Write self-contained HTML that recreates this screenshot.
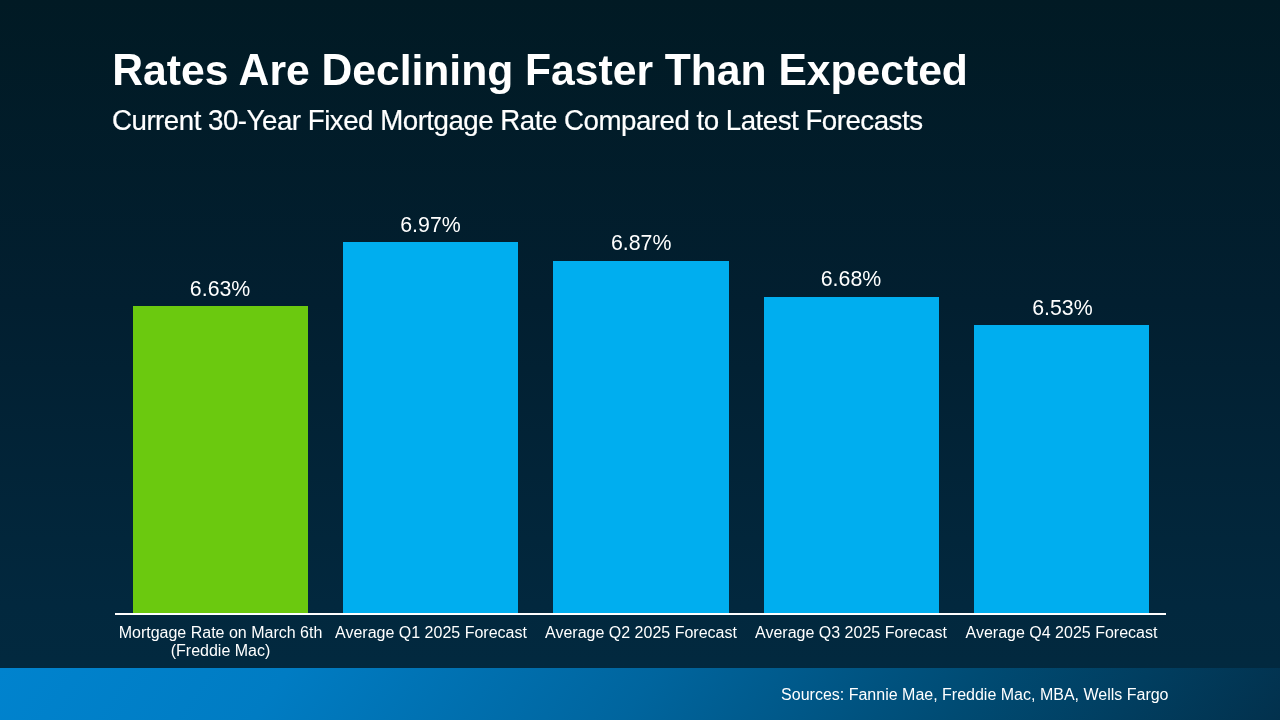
<!DOCTYPE html>
<html lang="en">
<head>
<meta charset="utf-8">
<title>Rates Are Declining Faster Than Expected</title>
<style>
  html, body { margin: 0; padding: 0; }
  body {
    width: 1280px; height: 720px; overflow: hidden; position: relative;
    background: linear-gradient(180deg, #011a24 0%, #021f30 42%, #02283e 84%, #022a40 100%);
    font-family: "Liberation Sans", sans-serif;
    color: #fff;
  }
  .abs { position: absolute; white-space: nowrap; }
  h1 {
    margin: 0; left: 112.3px; top: 46px; font-size: 42.67px; line-height: 49px; font-weight: bold;
    letter-spacing: -0.025px;
  }
  h1 .u { transform: scaleY(1.04); }
  h2 {
    margin: 0; left: 112px; top: 104.5px; font-size: 27.7px; line-height: 32px; font-weight: normal;
    letter-spacing: -0.5px; -webkit-text-stroke: 0.2px #fff;
  }
  .u { display: inline-block; line-height: 1; transform: scaleY(1.055); transform-origin: 50% 84.65%; }
  .ka { margin-left: -0.0371em; }
  .ky { margin-right: -0.0918em; }
  .bar { position: absolute; background: #00aeef; }
  .bar.g { background: #6bc90f; }
  .val { position: absolute; width: 176px; text-align: center; font-size: 21.33px; line-height: 24px; }
  .cat { position: absolute; width: 230px; text-align: center; font-size: 16px; line-height: 18px; top: 624px; }
  .axis { position: absolute; left: 115px; top: 613px; width: 1051px; height: 2px; background: #fff; }
  footer {
    position: absolute; left: 0; top: 668px; width: 1280px; height: 52px;
    background: linear-gradient(125deg, #0083ce 0%, #007cc3 22%, #00659e 50%, #004b73 75%, #02314d 100%);
  }
  footer span { position: absolute; right: 111.5px; top: 18px; font-size: 16px; line-height: 18px; white-space: nowrap; }
</style>
</head>
<body>
  <h1 class="abs"><span class="u">R</span>ates <span class="u ka">A</span>re <span class="u">D</span>eclining <span class="u">F</span>aster <span class="u">T</span>han <span class="u">E</span>xpected</h1>
  <h2 class="abs"><span class="u">C</span>urrent <span class="u">30</span>-<span class="u ky">Y</span>ear <span class="u">F</span>ixed <span class="u">M</span>ortgage <span class="u">R</span>ate <span class="u">C</span>ompared to <span class="u">L</span>atest <span class="u">F</span>orecasts</h2>

  <div class="bar g" style="left:133px;top:306px;width:175px;height:307px"></div>
  <div class="bar" style="left:343px;top:242px;width:175px;height:371px"></div>
  <div class="bar" style="left:553px;top:261px;width:176px;height:352px"></div>
  <div class="bar" style="left:764px;top:297px;width:175px;height:316px"></div>
  <div class="bar" style="left:974px;top:325px;width:175px;height:288px"></div>

  <div class="val" style="left:132.1px;top:277px">6.63%</div>
  <div class="val" style="left:342.5px;top:213px">6.97%</div>
  <div class="val" style="left:553.2px;top:231px">6.87%</div>
  <div class="val" style="left:763px;top:267px">6.68%</div>
  <div class="val" style="left:974.4px;top:296px">6.53%</div>

  <div class="axis"></div>

  <div class="cat" style="left:105.5px">Mortgage Rate on March 6th<br>(Freddie Mac)</div>
  <div class="cat" style="left:316px">Average Q1 2025 Forecast</div>
  <div class="cat" style="left:526px">Average Q2 2025 Forecast</div>
  <div class="cat" style="left:736px">Average Q3 2025 Forecast</div>
  <div class="cat" style="left:946.5px">Average Q4 2025 Forecast</div>

  <footer><span>Sources: Fannie Mae, Freddie Mac, MBA, Wells Fargo</span></footer>
</body>
</html>
